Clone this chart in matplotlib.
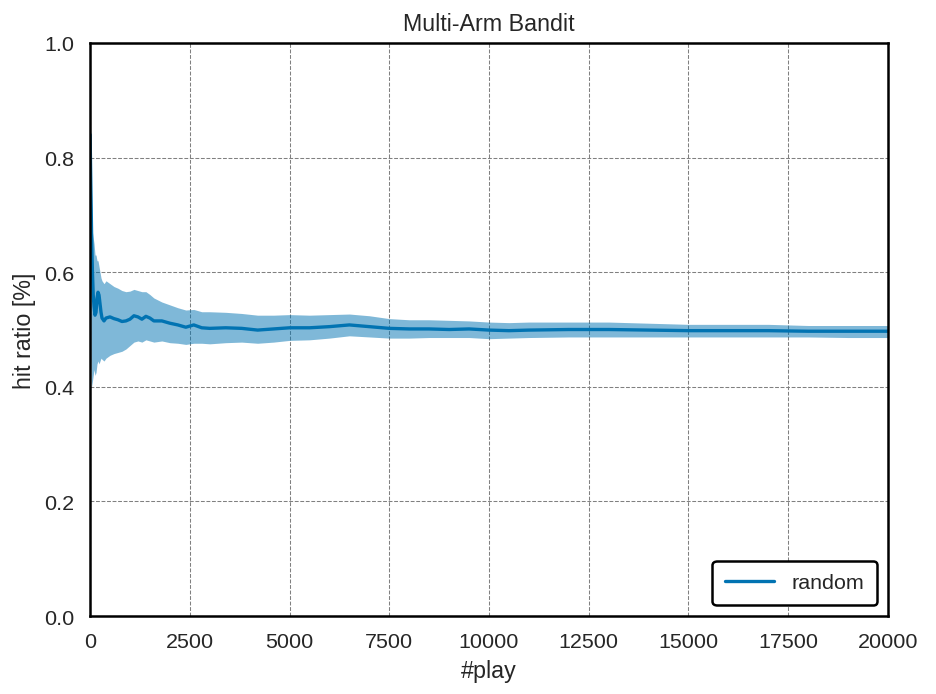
import matplotlib
matplotlib.use('Agg')
import matplotlib.pyplot as plt
import seaborn as sns
import numpy as np

play = [1, 20, 40, 60, 80, 100, 125, 150, 175, 200, 225, 250, 275, 300, 350, 400,
        500, 600, 700, 800, 900, 1000, 1100, 1200, 1300, 1400, 1500, 1600, 1800,
        2000, 2200, 2400, 2600, 2800, 3000, 3400, 3800, 4200, 4600, 5000, 5500,
        6000, 6500, 7000, 7500, 8000, 8500, 9000, 9500, 10000, 10500, 11000,
        12000, 13000, 14000, 15000, 16000, 17000, 18000, 19000, 20000]
hit_mean = [0.84, 0.75, 0.66, 0.60, 0.56, 0.54, 0.525, 0.53, 0.555, 0.565, 0.56,
            0.545, 0.53, 0.52, 0.515, 0.52, 0.522, 0.519, 0.517, 0.514, 0.515,
            0.518, 0.524, 0.522, 0.518, 0.523, 0.52, 0.515, 0.515, 0.511, 0.508,
            0.504, 0.508, 0.503, 0.502, 0.503, 0.502, 0.499, 0.501, 0.503, 0.503,
            0.505, 0.508, 0.505, 0.502, 0.501, 0.501, 0.500, 0.501, 0.499, 0.498,
            0.499, 0.500, 0.500, 0.499, 0.498, 0.498, 0.498, 0.497, 0.497, 0.497]
hit_upper = [0.86, 0.84, 0.72, 0.67, 0.66, 0.65, 0.63, 0.63, 0.62, 0.62, 0.61,
             0.60, 0.59, 0.585, 0.58, 0.585, 0.58, 0.575, 0.572, 0.568, 0.566,
             0.567, 0.570, 0.568, 0.566, 0.566, 0.561, 0.555, 0.548, 0.543, 0.538,
             0.534, 0.535, 0.531, 0.531, 0.530, 0.528, 0.525, 0.525, 0.526, 0.525,
             0.526, 0.527, 0.524, 0.519, 0.517, 0.517, 0.516, 0.515, 0.513, 0.512,
             0.513, 0.513, 0.513, 0.511, 0.509, 0.509, 0.509, 0.507, 0.507, 0.507]
hit_lower = [0.80, 0.45, 0.40, 0.41, 0.42, 0.43, 0.42, 0.425, 0.44, 0.445, 0.44,
             0.445, 0.45, 0.448, 0.445, 0.45, 0.455, 0.458, 0.46, 0.462, 0.466,
             0.472, 0.478, 0.48, 0.478, 0.482, 0.48, 0.478, 0.480, 0.477, 0.476,
             0.474, 0.476, 0.476, 0.475, 0.477, 0.478, 0.476, 0.478, 0.481, 0.482,
             0.485, 0.489, 0.487, 0.485, 0.485, 0.486, 0.486, 0.486, 0.484, 0.485,
             0.486, 0.487, 0.487, 0.487, 0.487, 0.487, 0.487, 0.487, 0.486, 0.486]

sns.set_style('white')
plt.rcParams['font.family'] = ['Liberation Sans', 'DejaVu Sans']
color = sns.color_palette('colorblind')[0]

fig = plt.figure(figsize=(6.24, 4.6333), dpi=150)
ax = fig.add_axes([0.0962, 0.1122, 0.8525, 0.8245])

ax.fill_between(play, hit_lower, hit_upper, color=color, alpha=0.5, lw=0)
ax.plot(play, hit_mean, color=color, lw=1.6, label='random')

ax.set_xlim(0, 20000)
ax.set_ylim(0, 1.0)
ax.set_xticks(np.arange(0, 20001, 2500))
ax.set_yticks(np.arange(0, 1.01, 0.2))
ax.grid(True, ls='--', color='gray', lw=0.5)
for s in ax.spines.values():
    s.set_color('black')
    s.set_linewidth(1.2)
ax.tick_params(labelsize=10.3, colors='#262626', pad=4)
ax.set_xlabel('#play', size=11.2, color='#262626')
ax.set_ylabel('hit ratio [%]', size=11.2, color='#262626')
ax.set_title('Multi-Arm Bandit', size=11.2, color='#262626')

leg = ax.legend(loc='lower right', fontsize=10.3, frameon=True, fancybox=True,
                borderpad=0.6, handlelength=2.3)
leg.get_frame().set_edgecolor('black')
leg.get_frame().set_linewidth(1.2)
leg.get_frame().set_alpha(1)

fig.savefig('out.png', dpi=150)
